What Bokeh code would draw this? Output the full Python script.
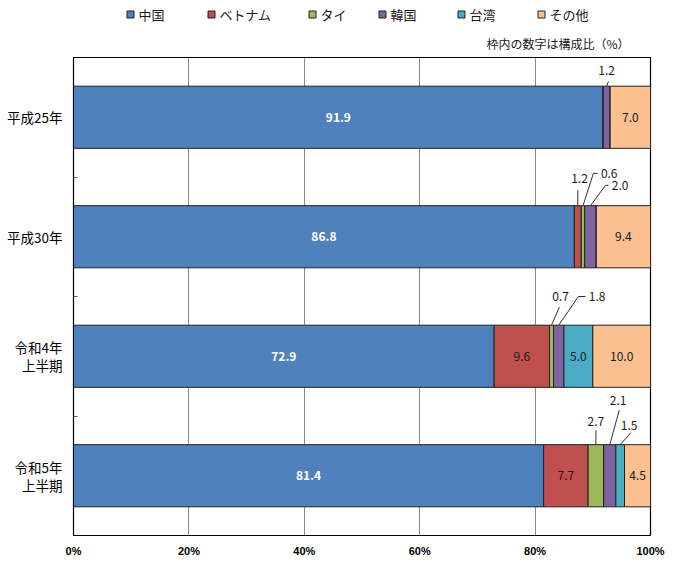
from bokeh.plotting import figure
from bokeh.layouts import column
from bokeh.models import ColumnDataSource, FixedTicker, Range1d
from bokeh.core.properties import value
from bokeh.embed import file_html
from bokeh.resources import INLINE

# ---- data ----
categories = ["平成25年", "平成30年", "令和4年\n上半期", "令和5年\n上半期"]
series = ["中国", "ベトナム", "タイ", "韓国", "台湾", "その他"]
china = [91.9, 86.8, 72.9, 81.4]
vietnam = [0.0, 1.2, 9.6, 7.7]
thai = [0.0, 0.6, 0.7, 2.7]
korea = [1.2, 2.0, 1.8, 2.1]
taiwan = [0.0, 0.0, 5.0, 1.5]
other = [7.0, 9.4, 10.0, 4.5]
x_ticks = [0, 20, 40, 60, 80, 100]
x_tick_labels = ["0%", "20%", "40%", "60%", "80%", "100%"]
note = "枠内の数字は構成比（%）"

colors = ["#4F81BD", "#C0504D", "#9BBB59", "#8064A2", "#4BACC6", "#FAC090"]
JP = "Noto Sans CJK JP"

W, TOP_H, MAIN_H = 675, 57, 508
FRAME_L, FRAME_R = 73, 650

# ---- legend strip (page pixel coordinates; its frame is aligned with the chart's) ----
leg = figure(width=W, height=TOP_H, output_backend="svg", toolbar_location=None,
             x_range=Range1d(FRAME_L, FRAME_R), y_range=Range1d(0, TOP_H),
             min_border_left=FRAME_L, min_border_right=W - FRAME_R,
             min_border_top=0, min_border_bottom=0, outline_line_color=None)
leg.axis.visible = False
leg.grid.visible = False
leg_x = [130, 211, 312, 382, 461, 541]  # legend entry positions
leg_y = [TOP_H - 14] * len(series)
leg.rect(x=leg_x, y=leg_y, width=7, height=7, fill_color=colors,
         line_color="#202020", line_width=1)
leg.text(x=[x + 8 for x in leg_x], y=leg_y, text=series, text_baseline="middle",
         text_align="left", text_font=value(JP), text_font_size="13px",
         text_color="#1a1a1a")
leg.text(x=[629], y=[TOP_H - 42.5], text=[note], text_align="right",
         text_baseline="middle", text_font=value(JP), text_font_size="12px",
         text_color="#1a1a1a")

# ---- main chart ----
values = [china, vietnam, thai, korea, taiwan, other]
n = len(categories)
ypos = [n - 1 - i for i in range(n)]  # top row first
totals = [sum(v[i] for v in values) for i in range(n)]
norm = [[v[i] * 100.0 / totals[i] for i in range(n)] for v in values]

keys = ["s%d" % k for k in range(len(series))]
data = {"y": ypos}
for k, col in zip(keys, norm):
    data[k] = col
src = ColumnDataSource(data)

p = figure(width=W, height=MAIN_H, output_backend="svg", toolbar_location=None,
           x_range=Range1d(0, 100), y_range=Range1d(-0.5, n - 0.5),
           min_border_left=FRAME_L, min_border_right=W - FRAME_R, min_border_top=0,
           min_border_bottom=30)
p.outline_line_color = "black"
p.outline_line_width = 1.2

BAR_H = 0.52
rs = p.hbar_stack(keys, y="y", height=BAR_H, color=colors, source=src,
                  line_color="#202020", line_width=1)

# in-bar value labels
lx, ly, lt, lc, lw = [], [], [], [], []
cx_mid = {}
for i in range(n):
    left = 0.0
    for s in range(len(series)):
        w = norm[s][i]
        cx_mid[(s, i)] = left + w / 2
        if values[s][i] >= 4:
            lx.append(left + w / 2)
            ly.append(ypos[i])
            lt.append("%.1f" % values[s][i])
            lc.append("white" if s == 0 else "#1a1a1a")
            lw.append("bold" if s == 0 else "normal")
        left += w
p.text(x=lx, y=ly, text=lt, text_color=lc, text_font_style=lw,
       text_align="center", text_baseline="middle", text_font_size="12px",
       text_font=value(JP))

# callouts for small segments:
# (series, row, elbow dx, elbow dy, horizontal run, text dx, text dy, align)
top = BAR_H / 2
callouts = [
    (3, 0, 0.3, 0.04, 0.0, 0.0, 0.13, "center"),
    (1, 1, 0.0, 0.13, 0.0, 0.3, 0.23, "center"),
    (2, 1, 1.8, 0.27, 0.7, 1.0, 0.27, "left"),
    (3, 1, 2.6, 0.17, 0.5, 1.2, 0.17, "left"),
    (2, 2, 1.35, 0.15, 0.0, 1.55, 0.24, "center"),
    (3, 2, 3.4, 0.24, 1.2, 1.9, 0.24, "left"),
    (2, 3, 0.0, 0.12, 0.0, 0.0, 0.19, "center"),
    (3, 3, 1.65, 0.29, 0.0, 1.45, 0.37, "center"),
    (4, 3, 1.85, 0.10, 0.0, 1.55, 0.16, "center"),
]
sx0, sy0, sx1, sy1 = [], [], [], []
tx, ty, tt, ta = [], [], [], []
for s, i, edx, edy, hx, tdx, tdy, al in callouts:
    x0 = cx_mid[(s, i)]
    y0 = ypos[i] + top
    x1, y1 = x0 + edx, y0 + edy
    sx0.append(x0); sy0.append(y0); sx1.append(x1); sy1.append(y1)
    if hx > 0:
        sx0.append(x1); sy0.append(y1); sx1.append(x1 + hx); sy1.append(y1)
    if al == "left":
        tx.append(x1 + hx + 0.6)
    else:
        tx.append(x0 + tdx)
    ty.append(ypos[i] + top + tdy)
    tt.append("%.1f" % values[s][i])
    ta.append(al)
p.segment(x0=sx0, y0=sy0, x1=sx1, y1=sy1, line_color="#303030", line_width=1)
p.text(x=tx, y=ty, text=tt, text_align=ta, text_baseline="middle",
       text_font_size="12px", text_color="#1a1a1a", text_font=value(JP))

# axes
p.xaxis.ticker = FixedTicker(ticks=x_ticks)
p.xaxis.major_label_overrides = {t: l for t, l in zip(x_ticks, x_tick_labels)}
p.xaxis.major_tick_line_color = None
p.xaxis.minor_tick_line_color = None
p.xaxis.major_tick_in = 0
p.xaxis.major_tick_out = 0
p.xaxis.minor_tick_in = 0
p.xaxis.minor_tick_out = 0
p.xaxis.axis_line_color = None
p.xaxis.major_label_standoff = 9
p.xaxis.major_label_text_font = "Liberation Sans"
p.xaxis.major_label_text_font_style = "bold"
p.xaxis.major_label_text_font_size = "11px"
p.xaxis.major_label_text_color = "black"

p.yaxis.ticker = FixedTicker(ticks=ypos, minor_ticks=[0.5 + k for k in range(n - 1)])
p.yaxis.major_label_overrides = {y: c for y, c in zip(ypos, categories)}
p.yaxis.major_tick_line_color = None
p.yaxis.major_tick_in = 0
p.yaxis.major_tick_out = 0
p.yaxis.minor_tick_line_color = "#606060"
p.yaxis.minor_tick_in = 4
p.yaxis.minor_tick_out = 0
p.yaxis.axis_line_color = "black"
p.yaxis.major_label_standoff = 11
p.yaxis.major_label_text_align = "center"
p.yaxis.major_label_text_line_height = 0.92
p.yaxis.major_label_text_font = JP
p.yaxis.major_label_text_font_size = "13.5px"
p.yaxis.major_label_text_color = "black"

p.xgrid.ticker = FixedTicker(ticks=x_ticks[1:-1])
p.xgrid.grid_line_color = "#8a8a8a"
p.xgrid.grid_line_width = 1
p.ygrid.grid_line_color = None

layout = column(leg, p, spacing=0)
open("out.html", "w").write(file_html(layout, INLINE))
